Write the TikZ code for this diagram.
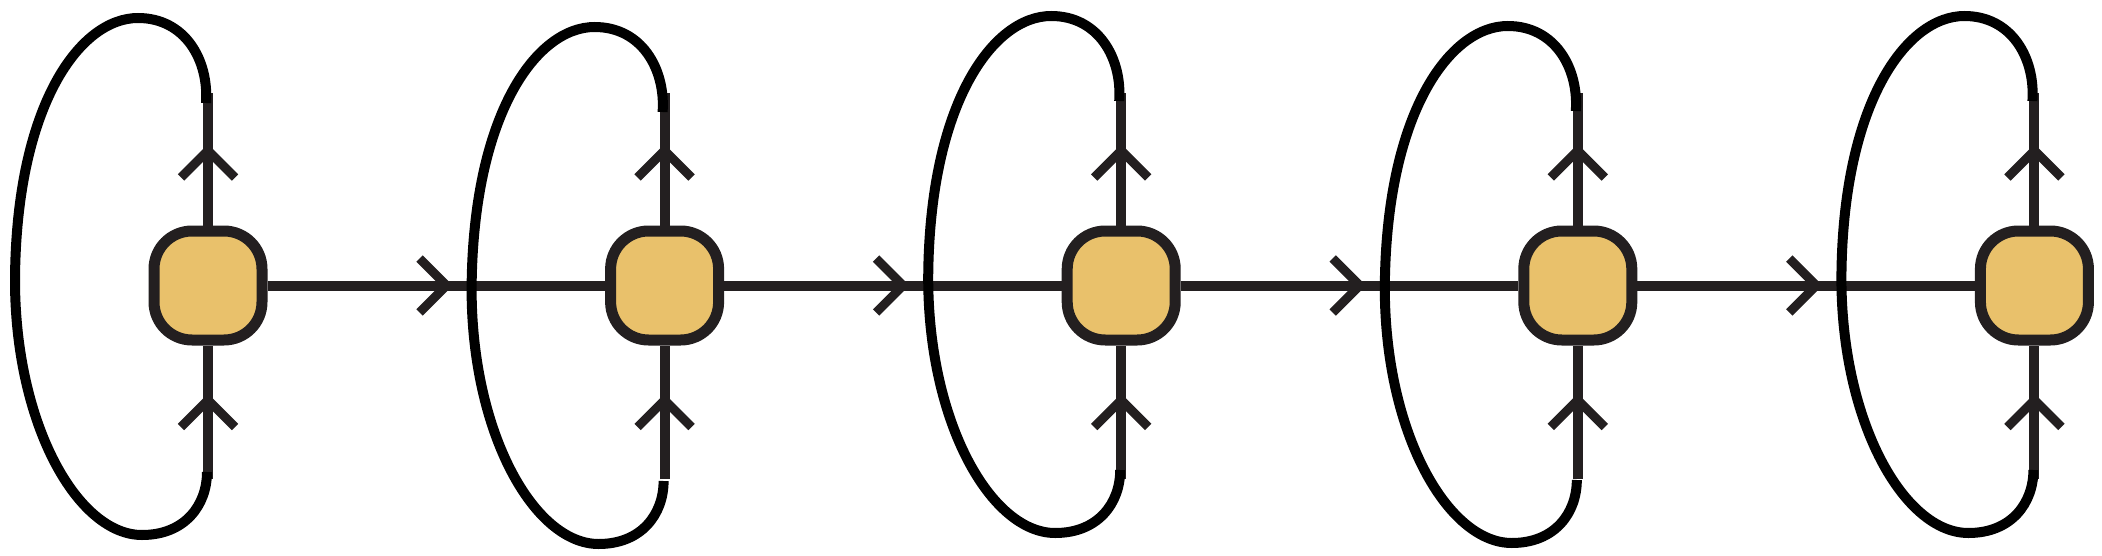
\documentclass[tikz,border=0pt]{standalone}
\usetikzlibrary{decorations.markings}
\definecolor{conncol}{RGB}{35,31,32}
\definecolor{nodefill}{RGB}{233,193,107}
\begin{document}
\begin{tikzpicture}[x=0.5pt,y=-0.5pt,
  cell/.style={draw=conncol, fill=nodefill, line width=5.5pt, rounded corners=19pt,
    minimum width=54pt, minimum height=54.5pt, inner sep=0pt, outer sep=2.75pt},
  conn/.style={draw=conncol, line width=5pt},
  chevron/.style={postaction={decorate, decoration={markings,
    mark=at position #1 with {\draw[conncol, line width=4.5pt, line join=miter]
      (-13.5pt,13.5pt) -- (0pt,0pt) -- (-13.5pt,-13.5pt);}}}},
  selfloop/.style={draw=black, line width=5pt}]
\useasboundingbox (0,0) rectangle (2102,556);
\foreach \k/\dy in {1/0,2/9,3/-2,4/8,5/-2}{
  \pgfmathsetmacro{\cx}{208+(\k-1)*456.6}
  \pgfmathsetmacro{\ya}{103+\dy}
  \pgfmathsetmacro{\yb}{472+\dy}
  \node[cell] (n\k) at (\cx,285.5) {};
  \coordinate (t\k) at (\cx,93);
  \coordinate (b\k) at (\cx,479);
  \coordinate (ls\k) at (\cx-2,\ya);
  \coordinate (le\k) at (\cx-1,\yb);
}
\foreach \k/\j in {1/2,2/3,3/4,4/5}{
  \draw[conn, chevron=89.5pt] (n\k) -- (n\j);
}
\foreach \k in {1,...,5}{
  \draw[conn, chevron=37.5pt] (n\k) -- (t\k);
  \draw[conn, chevron=39.5pt] (b\k) -- (n\k);
}
\foreach \k/\dy in {1/0,2/9,3/-2,4/8,5/-2}{
  \pgfmathsetmacro{\cx}{208+(\k-1)*456.6}
  \pgfmathsetmacro{\ya}{60+\dy}
  \pgfmathsetmacro{\yb}{18+\dy}
  \pgfmathsetmacro{\yc}{105+\dy}
  \pgfmathsetmacro{\yd}{280+\dy}
  \pgfmathsetmacro{\ye}{425+\dy}
  \pgfmathsetmacro{\yf}{535+\dy}
  \pgfmathsetmacro{\yg}{505+\dy}
  \draw[selfloop] (ls\k) .. controls ({\cx+1},\ya) and ({\cx-23},\yb) .. ({\cx-70},\yb)
    .. controls ({\cx-128},\yb) and ({\cx-192},\yc) .. ({\cx-193},\yd)
    .. controls ({\cx-193},\ye) and ({\cx-130},\yf) .. ({\cx-66},\yf)
    .. controls ({\cx-23},\yf) and ({\cx-1},\yg) .. (le\k);
}
\end{tikzpicture}
\end{document}
